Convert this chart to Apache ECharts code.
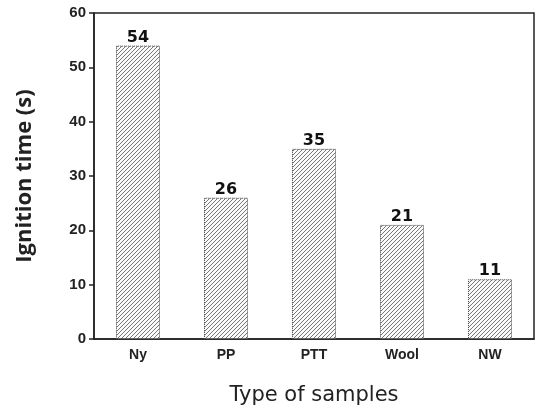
<!DOCTYPE html>
<html><head><meta charset="utf-8">
<script src="https://cdn.jsdelivr.net/npm/echarts@6/dist/echarts.min.js"></script>
<style>html,body{margin:0;padding:0;background:#fff}#c{width:536px;height:411px}</style>
</head><body><div id="c"></div>
<script>
var categories = ['Ny', 'PP', 'PTT', 'Wool', 'NW'];
var ignitionTime = [54, 26, 35, 21, 11];
var yTicks = [0, 10, 20, 30, 40, 50, 60];

function hatch() {
  var c = document.createElement('canvas');
  c.width = 4; c.height = 4;
  var g = c.getContext('2d');
  g.fillStyle = '#fafafa'; g.fillRect(0, 0, 4, 4);
  g.strokeStyle = '#777'; g.lineWidth = 1;
  g.beginPath();
  g.moveTo(-1, 5); g.lineTo(5, -1);
  g.moveTo(-1, 1); g.lineTo(1, -1);
  g.moveTo(3, 5); g.lineTo(5, 3);
  g.stroke();
  return c;
}

var chart = echarts.init(document.getElementById('c'));
chart.setOption({
  animation: false,
  grid: { left: 94, right: 2, top: 13, bottom: 71, show: true, borderColor: '#222', borderWidth: 1.5 },
  xAxis: {
    type: 'category', data: categories,
    name: 'Type of samples', nameLocation: 'middle', nameGap: 46,
    nameTextStyle: { fontFamily: 'DejaVu Sans', fontSize: 21, color: '#222' },
    axisLine: { lineStyle: { color: '#222', width: 1.5 } },
    axisTick: { alignWithLabel: true, length: 5, lineStyle: { color: '#222', width: 1.5 } },
    axisLabel: { fontFamily: 'Liberation Sans', fontWeight: 'bold', fontSize: 14, color: '#222', margin: 9 }
  },
  yAxis: {
    type: 'value', min: yTicks[0], max: yTicks[yTicks.length - 1], interval: 10,
    name: 'Ignition time (s)', nameLocation: 'middle', nameGap: 58,
    nameTextStyle: { fontFamily: 'Open Sans', fontWeight: 'bold', fontSize: 22, color: '#222' },
    axisLine: { show: true, lineStyle: { color: '#222', width: 1.5 } },
    axisTick: { show: true, length: 5, lineStyle: { color: '#222', width: 1.5 } },
    axisLabel: { fontFamily: 'Liberation Sans', fontWeight: 'bold', fontSize: 15, color: '#222', margin: 8 },
    splitLine: { show: false }
  },
  series: [{
    type: 'bar', data: ignitionTime, barWidth: '50%',
    itemStyle: { color: { image: hatch(), repeat: 'repeat' }, borderColor: '#444', borderWidth: 1, borderType: 'dotted' },
    label: { show: true, position: 'top', distance: 0, fontFamily: 'DejaVu Sans', fontWeight: 'bold', fontSize: 16, color: '#111' }
  }]
});
</script></body></html>
